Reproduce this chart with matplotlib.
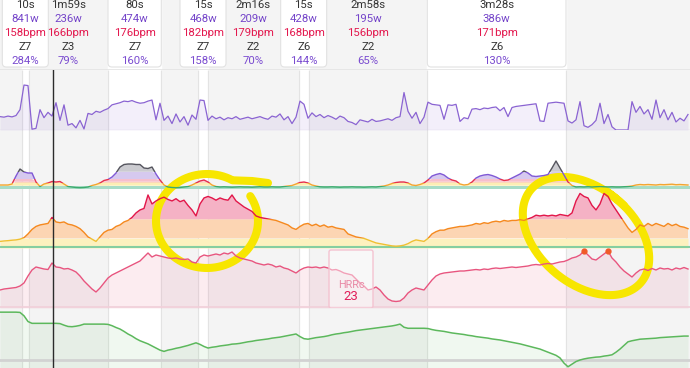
import numpy as np
import matplotlib
matplotlib.use("Agg")
import matplotlib.pyplot as plt
from matplotlib.patches import Rectangle, FancyBboxPatch
from matplotlib.lines import Line2D

plt.rcParams["font.family"] = ["Roboto", "DejaVu Sans"]

# ---------------- data ----------------
STEP_S = 6          # seconds between samples
T_END = 1035        # seconds shown
CURSOR_S = 79.5

iv_start = [33, 43, 162, 297, 312, 448, 463, 641]
iv_dur = [10, 119, 80, 15, 136, 15, 178, 208]
iv_label = ["10s", "1m59s", "80s", "15s", "2m16s", "15s", "2m58s", "3m28s"]
iv_watts = [841, 236, 474, 468, 209, 428, 195, 386]
iv_bpm = [158, 166, 176, 182, 179, 168, 156, 171]
iv_zone = ["Z7", "Z3", "Z7", "Z7", "Z2", "Z6", "Z2", "Z6"]
iv_pct = [284, 79, 160, 158, 70, 144, 65, 130]

power = [250, 240, 260, 245, 270, 380, 840, 830, 15, 30,
         380, 230, 330, 260, 510, 180, 470, 90, 120, 40,
         180, 20, 310, 290, 350, 330, 370, 400, 470, 490,
         510, 540, 530, 550, 520, 500, 510, 540, 560, 190,
         500, 180, 260, 120, 300, 150, 250, 90, 280, 200,
         560, 550, 180, 260, 210, 240, 190, 230, 210, 250,
         200, 220, 240, 210, 230, 250, 220, 200, 260, 240,
         300, 190, 250, 120, 240, 540, 480, 220, 320, 250,
         290, 230, 270, 240, 200, 260, 230, 160, 140, 100,
         190, 170, 150, 200, 160, 170, 190, 210, 180, 230,
         250, 700, 350, 220, 330, 120, 240, 520, 480, 470,
         460, 200, 470, 460, 480, 160, 230, 210, 390, 400,
         380, 410, 400, 420, 430, 360, 420, 250, 420, 440,
         450, 460, 470, 480, 490, 170, 160, 500, 510, 520,
         510, 500, 170, 130, 190, 530, 80, 50, 100, 180,
         500, 120, 290, 60, 0, 0, 0, 0, 530, 330,
         440, 300, 380, 200, 560, 230, 380, 190, 330, 150,
         220, 170, 290]

zone_level = [3, 3, 3, 4, 12, 19, 16, 15, 15, 6,
              1.5, 4, 5, 6.5, 6, 6.5, 4, 1.5, 1, 0.5,
              0.3, 0.5, 1, 2.5, 3.5, 5, 7.5, 8.5, 11, 15,
              21, 23.5, 24, 24, 23.5, 23.5, 20, 19.5, 21, 14,
              8, 3, 1, 0.5, 0.3, 0.5, 1, 1.5, 3, 5,
              7, 8, 6, 3, 1.5, 1, 1.2, 1, 0.8, 1,
              1.2, 1, 1, 0.8, 1, 1.3, 1, 1, 1.2, 1,
              1, 1.5, 2, 2.5, 4, 5.5, 6, 5, 3, 2,
              1.2, 1, 1, 1.2, 1, 0.8, 1, 1, 1.2, 1,
              1, 0.8, 1, 1.2, 1, 1.5, 2, 3, 4.5, 5.5,
              6, 6, 5, 3, 2.5, 3.5, 5, 8, 12, 13.5,
              14.5, 13, 10, 8, 7, 4, 3, 3.5, 6, 10,
              12, 13, 13.5, 12.5, 11, 9, 7.5, 8, 10, 12,
              14, 17, 15, 12, 11.5, 12, 12.5, 13.5, 20, 27,
              20, 13, 6, 2.5, 1, 1.2, 1, 1.3, 1, 1.2,
              1.5, 1.2, 1, 1.2, 1, 1, 1.2, 1.5, 2, 3,
              3.5, 3.2, 3.5, 3.3, 3, 3.5, 3.3, 3.5, 3.8, 3.3,
              3.5, 3.2, 3]

hr = [155, 155.3, 155.5, 155.8, 156, 156.5, 157.5, 160, 163, 165,
      166, 166.5, 167, 171, 168, 167.5, 168, 166.5, 166, 165,
      163.5, 161, 158, 156.5, 155, 158, 161, 162.5, 163, 165,
      166, 168, 169, 171, 174, 176, 177, 186, 180, 182,
      183.5, 184.5, 183, 182, 183.5, 181.5, 182.5, 179, 176, 172,
      180, 184, 185, 184, 182.5, 184, 183, 182.5, 186, 182,
      180, 178, 176.5, 175, 172, 171, 170.5, 170, 169.5, 169,
      168, 167, 166, 164, 163, 165, 166.5, 167, 165.5, 166.5,
      165, 166, 164.5, 165, 164, 163.5, 163, 160, 159, 158,
      157.5, 157, 156, 155, 154, 153.5, 153, 152.5, 152, 151.8,
      152, 152.5, 153.5, 155, 156, 155.5, 155, 157, 160, 161.5,
      162.5, 162.5, 163.5, 164, 164.5, 165, 165, 165.5, 166, 167,
      166.5, 167.5, 167, 168, 168.5, 168, 169, 168.5, 169, 169,
      169.5, 169, 170, 171, 172.5, 172, 172.5, 172, 172.5, 172,
      173, 172.5, 172, 174, 182, 187, 185, 184, 179, 176,
      180, 187, 185, 180, 176, 172, 168, 164, 161, 163,
      166, 165, 167, 165.5, 167, 166, 165, 167, 165.5, 166.5,
      165, 164.5, 163.5]

hr_trend = [17, 18, 18.5, 19, 19.5, 21, 24, 31, 37, 40,
            39, 38, 37.5, 44, 40, 39.5, 38, 38.5, 37, 35,
            31, 26, 22, 18, 15, 19, 24, 29, 32, 34,
            36, 38, 40, 42, 44, 46, 50, 54, 50, 52,
            51, 50, 49, 48.5, 49, 48, 47.5, 48, 45, 44,
            50, 52, 51, 52, 53, 52, 54, 53, 55, 51,
            49, 48, 47, 46, 44, 43, 42, 43, 42, 40,
            41, 39, 38, 36, 34, 37, 39, 40, 39.5, 40,
            39, 40, 39, 37, 37.5, 36, 34, 33, 32, 28,
            24, 21, 17, 18, 20, 17, 12, 8, 6, 5.5,
            6, 9, 14, 17, 19, 18, 17, 22, 27, 31,
            33, 34, 34.5, 35, 35.5, 36, 36, 36.5, 37, 37.5,
            37, 38, 37.5, 38.5, 39, 38.5, 39, 39.5, 40, 39.5,
            40, 40.5, 41, 42, 42.5, 42, 43, 43.5, 43, 44,
            45, 45.5, 47, 49, 50, 52, 56, 52, 48, 47,
            50, 53, 56, 49, 45, 40, 36, 33, 30, 34,
            37, 38, 36.5, 38.5, 37, 39, 38, 38.5, 37, 39,
            38, 39.5, 38]
hr_peak_idx = [146, 152]

wbal = [92, 92, 92, 92, 92, 91.5, 85, 74, 70.5, 70.5,
        70.5, 70.5, 70.5, 70.5, 70.5, 70, 67, 64.5, 64, 65,
        66.5, 69, 69, 69, 69, 69, 69, 68.5, 66, 62.5,
        59.5, 55, 50, 46, 41, 37, 34, 31, 27, 23,
        19, 16.5, 19, 20.5, 22.5, 24, 26, 28, 30.5, 33,
        30, 26, 23, 24.5, 25.5, 27, 28, 29, 30.5, 31,
        32, 33.5, 35, 36, 37.5, 38.5, 39.5, 40.5, 42, 43,
        44, 45.5, 47, 48.5, 50, 45, 41, 40, 41.5, 43,
        44, 45, 46.5, 48.5, 50, 51, 52.5, 53.5, 55, 56.5,
        57.5, 58.5, 59.5, 60.5, 61.5, 62.5, 63.5, 64.5, 65.5, 67,
        69, 63, 61, 61, 61, 61, 61, 60.5, 58.5, 57,
        56, 55, 53.5, 52, 51, 50, 49, 47.5, 46.5, 45,
        44, 43, 42, 40.5, 39.5, 38.5, 37, 35.5, 34, 32.5,
        31, 29, 27, 25, 23, 21, 18, 15, 12, 9,
        4, -6, -13, -8, -3, 0, 2, 3.5, 4.5, 5.5,
        6, 7.5, 8.5, 10, 15, 21, 28, 35, 37, 38.5,
        40, 40.5, 41, 41.5, 42, 43, 43.5, 44, 44.5, 45,
        45.5, 46, 46]

hrrc_value = 23
hrrc_window = (493.5, 559.5)

t = np.arange(len(power)) * STEP_S

# ---------------- layout ----------------
W, H = 690, 368
GRAY = "#f4f4f4"
YEL = "#f7e600"


def rect(top, bottom):
    return [0, 1 - bottom / H, 1, (bottom - top) / H]


fig = plt.figure(figsize=(W / 100, H / 100), dpi=100)

bg = fig.add_axes([0, 0, 1, 1])
bg.set_xlim(0, T_END)
bg.set_ylim(H, 0)
bg.axis("off")
bg.add_patch(Rectangle((0, 0), T_END, H, color=GRAY, zorder=0))
hard = [z in ("Z6", "Z7") for z in iv_zone]
for s, d, hd_ in zip(iv_start, iv_dur, hard):
    if hd_:
        bg.add_patch(Rectangle((s, 0), d, H, color="white", zorder=1))
bounds = sorted(set(iv_start + [s + d for s, d in zip(iv_start, iv_dur)]))
bg.vlines(bounds, 70, H, color="#e3e3e3", lw=0.9, zorder=2)

# header
hd = fig.add_axes(rect(0, 70))
hd.set_xlim(0, T_END)
hd.set_ylim(70, 0)
hd.axis("off")
for s, d, hd_ in zip(iv_start, iv_dur, hard):
    if hd_:
        w = max(d, 69)
        c = s + d / 2
        hd.add_patch(FancyBboxPatch((c - w / 2, -8), w, 75,
                                    boxstyle="round,pad=0,rounding_size=6",
                                    mutation_aspect=1 / 1.5, fc="white",
                                    ec="#e2e2e2", lw=0.8, zorder=1))
hd.axhline(69.5, color="#e4e4e4", lw=1.2, zorder=2)
rows_y = [5.5, 19, 33, 47, 61]
fs = 8.2
for s, d, lab, wv, bp, zn_, pc in zip(iv_start, iv_dur, iv_label, iv_watts,
                                       iv_bpm, iv_zone, iv_pct):
    c = s + d / 2
    hd.text(c, rows_y[0], lab, ha="center", va="center", fontsize=fs, color="#333333", zorder=3)
    hd.text(c, rows_y[1], f"{wv}w", ha="center", va="center", fontsize=fs, color="#7444c9", zorder=3)
    hd.text(c, rows_y[2], f"{bp}bpm", ha="center", va="center", fontsize=fs, color="#e3184e", zorder=3)
    hd.text(c, rows_y[3], zn_, ha="center", va="center", fontsize=fs, color="#333333", zorder=3)
    hd.text(c, rows_y[4], f"{pc}%", ha="center", va="center", fontsize=fs, color="#7a4bd0", zorder=3)


def panel(top, bottom, ylim):
    ax = fig.add_axes(rect(top, bottom))
    ax.set_facecolor("none")
    ax.axis("off")
    ax.set_xlim(0, T_END)
    ax.set_ylim(*ylim)
    return ax


def band_fill(ax, v, bands):
    v = np.asarray(v, float)
    for lo, hi, col in bands:
        ax.fill_between(t, lo, np.minimum(v, hi), where=v > lo, interpolate=True,
                        color=col, lw=0, zorder=1)


def band_line(ax, v, bands, lw=1.0):
    for lo, hi, col in bands:
        ln, = ax.plot(t, v, color=col, lw=lw, zorder=3)
        r = Rectangle((-100, lo), T_END + 200, hi - lo, transform=ax.transData)
        ln.set_clip_path(r)


def loop(cx, cy, a, b, rot, th0, th1, n=260):
    th = np.radians(np.linspace(th0, th1, n))
    px, py = a * np.cos(th), b * np.sin(th)
    r = np.radians(rot)
    X = cx + px * np.cos(r) - py * np.sin(r)
    Y = cy + px * np.sin(r) + py * np.cos(r)
    return X, Y


X1, Y1 = loop(207, 221, 51, 47, 0, -60, -392)
X1 = np.concatenate([[268, 252], X1])
Y1 = np.concatenate([[183, 181], Y1])
X2, Y2 = loop(586, 236, 72, 48, 40, -100, 278)
loops = [(X1, Y1), (X2, Y2)]


def add_loops(ax):
    for X, Y in loops:
        ax.add_line(Line2D(X / W, 1 - Y / H, transform=fig.transFigure, color=YEL,
                           lw=5.8, solid_capstyle="round", solid_joinstyle="round",
                           zorder=2))


# power
pw = panel(70, 130, (0, 1121))
pw.fill_between(t, 0, power, color="#8a63d2", alpha=0.1, lw=0, zorder=1)
pw.plot(t, power, color="#8a63d2", lw=0.9, zorder=3)
pw.axhline(0, color="#dcd6e6", lw=1, zorder=2)

# zone level
zn = panel(130, 190, (-2, 58))
zn.axhspan(-1, 2.3, color="#a8dcc6", lw=0, zorder=0.5)
band_fill(zn, zone_level, [(2.3, 5, "#fdeeb4"), (5, 6.3, "#fcd7bb"), (6.3, 9, "#f7bfcd"),
                            (9, 16.3, "#d6c9ef"), (16.3, 99, "#cbcbd0")])
band_line(zn, zone_level, [(-99, 2.3, "#3dab6e"), (2.3, 5, "#f3a530"), (5, 9, "#e5304e"),
                            (9, 16.3, "#8059d6"), (16.3, 99, "#55555e")], lw=1.0)
add_loops(zn)

# heart rate
hrax = panel(190, 248, (150.6, 189.3))
band_fill(hrax, hr, [(150.6, 157.1, "#fdf1be"), (157.1, 169.8, "#fcd5b3"), (169.8, 200, "#f5b2c5")])
band_line(hrax, hr, [(0, 157.1, "#f0c030"), (157.1, 169.8, "#f5891f"), (169.8, 300, "#e2174a")], lw=1.0)
hrax.axhline(151.3, color="#86cfa0", lw=1.5, zorder=2)
add_loops(hrax)

# hr trend (pink)
pk = panel(248, 308, (-1, 59))
pk.fill_between(t, -1, hr_trend, color="#e8557f", alpha=0.11, lw=0, zorder=1)
pk.plot(t, hr_trend, color="#e8557f", lw=1.0, zorder=3)
pk.axhline(0, color="#f1cfd9", lw=1.2, zorder=2)
pk.plot(t[hr_peak_idx], np.asarray(hr_trend)[hr_peak_idx], "o", color="#f05a28", ms=3.5, zorder=4)
add_loops(pk)
pk.add_patch(FancyBboxPatch((hrrc_window[0], -1), hrrc_window[1] - hrrc_window[0], 58,
                            boxstyle="round,pad=0,rounding_size=3", mutation_aspect=1 / 1.5,
                            fc=(1, 1, 1, 0.45), ec="#f4c3d1", lw=1, zorder=5))
cx = sum(hrrc_window) / 2
pk.text(cx, 22, "HRRc", ha="center", va="center", fontsize=7.8, color="#e98aa6", zorder=6)
pk.text(cx, 11, str(hrrc_value), ha="center", va="center", fontsize=9.5, color="#e01e5a", zorder=6)

# w'bal (green)
gr = panel(308, 368, (-15.4, 100))
gr.fill_between(t, -15.4, wbal, color="#5cb85c", alpha=0.09, lw=0, zorder=1)
gr.plot(t, wbal, color="#5cb85c", lw=1.1, zorder=3)
gr.axhline(0, color="#d2d2d2", lw=2, zorder=2)

# cursor
ov = panel(70, 368, (0, 1))
ov.axvline(CURSOR_S, color="#2b2b2b", lw=1, zorder=10)

fig.savefig("out.png", dpi=100)
